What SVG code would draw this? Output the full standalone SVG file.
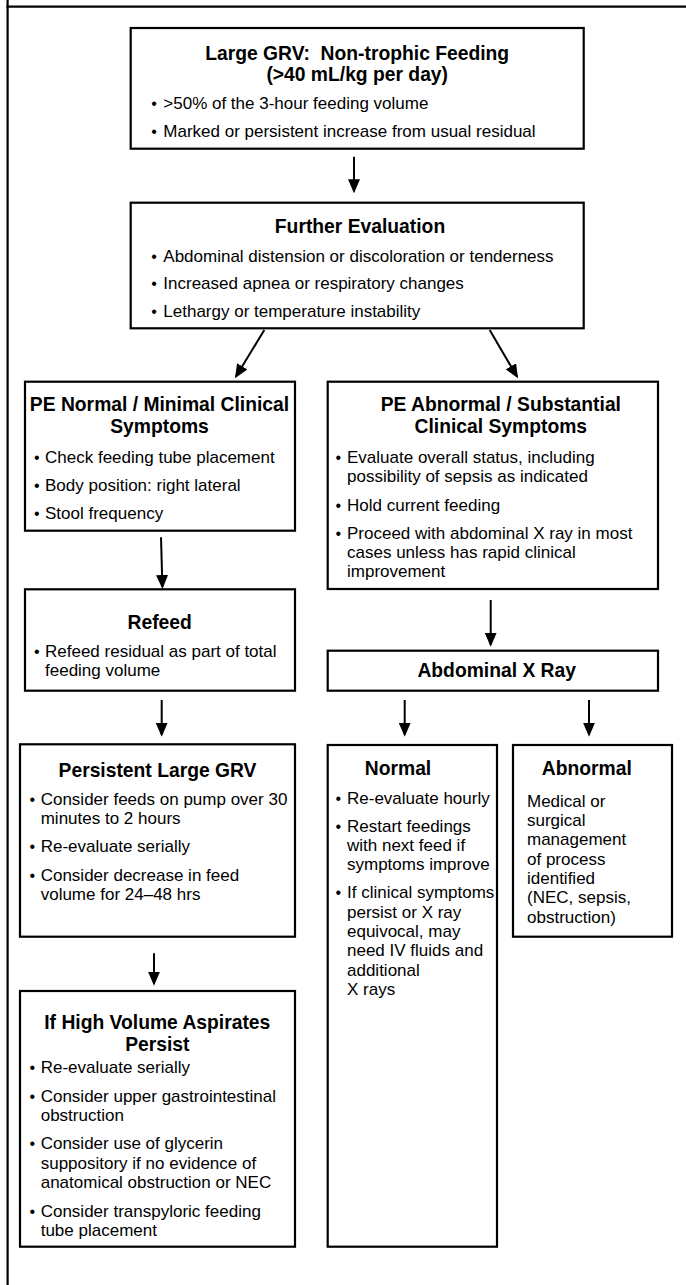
<svg xmlns="http://www.w3.org/2000/svg" width="686" height="1285" viewBox="0 0 686 1285">
  <style>
    .frame { stroke: #000; stroke-width: 2.2; fill: none; }
    .box { fill: #fff; stroke: #000; stroke-width: 2.2; }
    .t { font-family: "Liberation Sans", Arial, Helvetica, sans-serif; font-size: 19.3px; font-weight: bold; text-anchor: middle; fill: #000; }
    .b { font-family: "Liberation Sans", Arial, Helvetica, sans-serif; font-size: 17px; fill: #000; }
    .d { font-family: "Liberation Sans", Arial, Helvetica, sans-serif; font-size: 16px; text-anchor: middle; fill: #000; }
    .edge { stroke: #000; stroke-width: 2; fill: none; marker-end: url(#ah); }
  </style>
  <defs>
    <marker id="ah" markerUnits="userSpaceOnUse" viewBox="0 0 14 12" refX="12" refY="6" markerWidth="14" markerHeight="12" orient="auto">
      <path d="M0,0 L14,6 L0,12 Z" fill="#000"/>
    </marker>
  </defs>

  <rect width="686" height="1285" fill="#fff"/>

  <!-- page frame -->
  <g id="frame">
    <line class="frame" x1="6.5" y1="6.7" x2="686" y2="6.7"/>
    <line class="frame" x1="7.6" y1="0" x2="7.6" y2="1285"/>
  </g>

  <!-- connectors -->
  <g id="connectors">
    <line class="edge" x1="354" y1="156.7" x2="354" y2="191.3"/>
    <line class="edge" x1="264.3" y1="330" x2="236" y2="376.6"/>
    <line class="edge" x1="489.7" y1="330" x2="517" y2="376.6"/>
    <line class="edge" x1="161" y1="537.3" x2="162.4" y2="587"/>
    <line class="edge" x1="161.7" y1="700" x2="161.7" y2="734.7"/>
    <line class="edge" x1="154" y1="953.3" x2="154" y2="983.7"/>
    <line class="edge" x1="490.7" y1="600" x2="490.7" y2="644.7"/>
    <line class="edge" x1="404.7" y1="700" x2="404.7" y2="734.7"/>
    <line class="edge" x1="589" y1="700" x2="589" y2="734.7"/>
  </g>

  <!-- Large GRV -->
  <g id="large-grv">
    <rect class="box" x="130.7" y="28" width="453" height="120.7"/>
    <text class="t" x="357.2" y="59.5" xml:space="preserve">Large GRV:  Non-trophic Feeding</text>
    <text class="t" x="357.2" y="80.5">(&gt;40 mL/kg per day)</text>
    <text class="d" x="154" y="109.3">•</text>
    <text class="b" x="163.3" y="109.3">&gt;50% of the 3-hour feeding volume</text>
    <text class="d" x="154" y="136.7">•</text>
    <text class="b" x="163.3" y="136.7">Marked or persistent increase from usual residual</text>
  </g>

  <!-- Further Evaluation -->
  <g id="further-evaluation">
    <rect class="box" x="130.7" y="202.7" width="453" height="125.6"/>
    <text class="t" x="360" y="233.3">Further Evaluation</text>
    <text class="d" x="154" y="261.5">•</text>
    <text class="b" x="163.3" y="261.5">Abdominal distension or discoloration or tenderness</text>
    <text class="d" x="154" y="289.2">•</text>
    <text class="b" x="163.3" y="289.2">Increased apnea or respiratory changes</text>
    <text class="d" x="154" y="317">•</text>
    <text class="b" x="163.3" y="317">Lethargy or temperature instability</text>
  </g>

  <!-- PE Normal -->
  <g id="pe-normal">
    <rect class="box" x="25" y="381.7" width="270" height="149"/>
    <text class="t" x="159.5" y="410.7">PE Normal / Minimal Clinical</text>
    <text class="t" x="159.5" y="433.3">Symptoms</text>
    <text class="d" x="36.7" y="462.5">•</text>
    <text class="b" x="45" y="462.5">Check feeding tube placement</text>
    <text class="d" x="36.7" y="490.7">•</text>
    <text class="b" x="45" y="490.7">Body position: right lateral</text>
    <text class="d" x="36.7" y="518.5">•</text>
    <text class="b" x="45" y="518.5">Stool frequency</text>
  </g>

  <!-- PE Abnormal -->
  <g id="pe-abnormal">
    <rect class="box" x="327.7" y="381.7" width="330.3" height="207.3"/>
    <text class="t" x="500.8" y="410.7">PE Abnormal / Substantial</text>
    <text class="t" x="500.8" y="433.3">Clinical Symptoms</text>
    <text class="d" x="338.3" y="462.5">•</text>
    <text class="b" x="347" y="462.5">Evaluate overall status, including</text>
    <text class="b" x="347" y="481.8">possibility of sepsis as indicated</text>
    <text class="d" x="338.3" y="510.5">•</text>
    <text class="b" x="347" y="510.5">Hold current feeding</text>
    <text class="d" x="338.3" y="538.8">•</text>
    <text class="b" x="347" y="538.8">Proceed with abdominal X ray in most</text>
    <text class="b" x="347" y="558.1">cases unless has rapid clinical</text>
    <text class="b" x="347" y="577.4">improvement</text>
  </g>

  <!-- Refeed -->
  <g id="refeed">
    <rect class="box" x="25" y="589.3" width="270" height="101.4"/>
    <text class="t" x="159.7" y="629.3">Refeed</text>
    <text class="d" x="36.7" y="656.7">•</text>
    <text class="b" x="45" y="656.7">Refeed residual as part of total</text>
    <text class="b" x="45" y="676">feeding volume</text>
  </g>

  <!-- Abdominal X Ray -->
  <g id="abdominal-x-ray">
    <rect class="box" x="327.7" y="650.7" width="330.3" height="40"/>
    <text class="t" x="496.7" y="676.7">Abdominal X Ray</text>
  </g>

  <!-- Persistent Large GRV -->
  <g id="persistent-large-grv">
    <rect class="box" x="20" y="744.3" width="275" height="192.4"/>
    <text class="t" x="157.5" y="776.7">Persistent Large GRV</text>
    <text class="d" x="32.3" y="805">•</text>
    <text class="b" x="40.7" y="805">Consider feeds on pump over 30</text>
    <text class="b" x="40.7" y="824.3">minutes to 2 hours</text>
    <text class="d" x="32.3" y="852">•</text>
    <text class="b" x="40.7" y="852">Re-evaluate serially</text>
    <text class="d" x="32.3" y="880.7">•</text>
    <text class="b" x="40.7" y="880.7">Consider decrease in feed</text>
    <text class="b" x="40.7" y="900.2">volume for 24–48 hrs</text>
  </g>

  <!-- Normal -->
  <g id="normal">
    <rect class="box" x="327.7" y="745" width="169.3" height="501.7"/>
    <text class="t" x="398" y="775">Normal</text>
    <text class="d" x="338.3" y="804">•</text>
    <text class="b" x="347" y="804">Re-evaluate hourly</text>
    <text class="d" x="338.3" y="831.7">•</text>
    <text class="b" x="347" y="831.7">Restart feedings</text>
    <text class="b" x="347" y="851">with next feed if</text>
    <text class="b" x="347" y="870.3">symptoms improve</text>
    <text class="d" x="338.3" y="898.3">•</text>
    <text class="b" x="347" y="898.3">If clinical symptoms</text>
    <text class="b" x="347" y="917.6">persist or X ray</text>
    <text class="b" x="347" y="936.9">equivocal, may</text>
    <text class="b" x="347" y="956.2">need IV fluids and</text>
    <text class="b" x="347" y="975.5">additional</text>
    <text class="b" x="347" y="994.8">X rays</text>
  </g>

  <!-- Abnormal -->
  <g id="abnormal">
    <rect class="box" x="513" y="745" width="159" height="191.7"/>
    <text class="t" x="586.8" y="775">Abnormal</text>
    <text class="b" x="527" y="806.7">Medical or</text>
    <text class="b" x="527" y="826">surgical</text>
    <text class="b" x="527" y="845.3">management</text>
    <text class="b" x="527" y="864.6">of process</text>
    <text class="b" x="527" y="883.9">identified</text>
    <text class="b" x="527" y="903.2">(NEC, sepsis,</text>
    <text class="b" x="527" y="922.5">obstruction)</text>
  </g>

  <!-- If High Volume Aspirates Persist -->
  <g id="high-volume-aspirates">
    <rect class="box" x="20" y="991" width="275" height="255.7"/>
    <text class="t" x="157.3" y="1029">If High Volume Aspirates</text>
    <text class="t" x="157.3" y="1051">Persist</text>
    <text class="d" x="32.3" y="1073.3">•</text>
    <text class="b" x="40.7" y="1073.3">Re-evaluate serially</text>
    <text class="d" x="32.3" y="1101.7">•</text>
    <text class="b" x="40.7" y="1101.7">Consider upper gastrointestinal</text>
    <text class="b" x="40.7" y="1121">obstruction</text>
    <text class="d" x="32.3" y="1149.3">•</text>
    <text class="b" x="40.7" y="1149.3">Consider use of glycerin</text>
    <text class="b" x="40.7" y="1168.6">suppository if no evidence of</text>
    <text class="b" x="40.7" y="1187.9">anatomical obstruction or NEC</text>
    <text class="d" x="32.3" y="1216.5">•</text>
    <text class="b" x="40.7" y="1216.5">Consider transpyloric feeding</text>
    <text class="b" x="40.7" y="1235.8">tube placement</text>
  </g>
</svg>
